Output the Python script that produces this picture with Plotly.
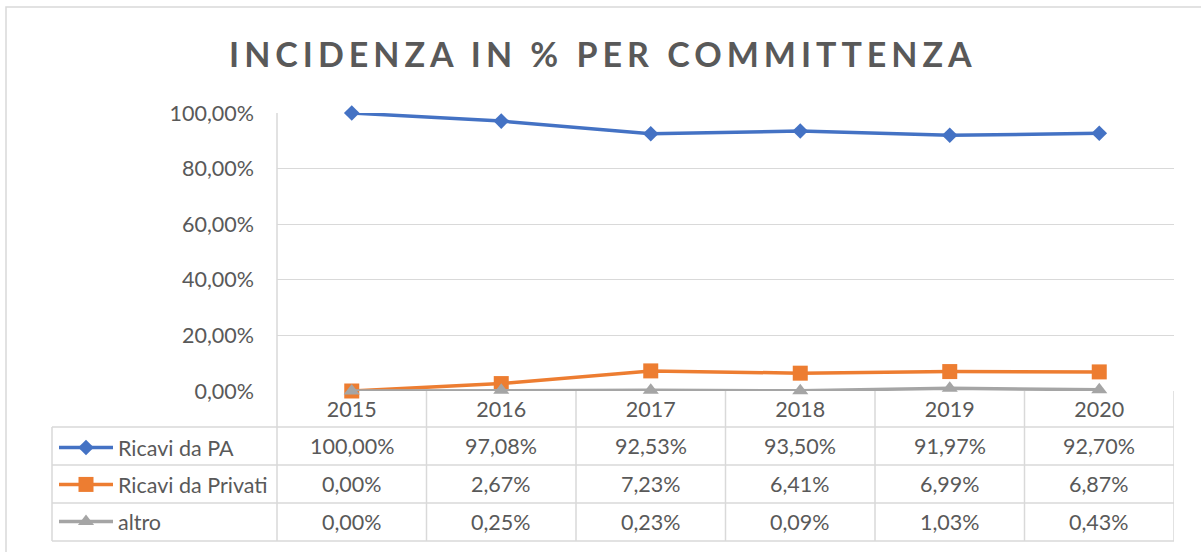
import plotly.graph_objects as go

# ---- data ----
years = ["2015", "2016", "2017", "2018", "2019", "2020"]
series_names = ["Ricavi da PA", "Ricavi da Privati", "altro"]
ricavi_pa = [100.00, 97.08, 92.53, 93.50, 91.97, 92.70]
ricavi_privati = [0.00, 2.67, 7.23, 6.41, 6.99, 6.87]
altro = [0.00, 0.25, 0.23, 0.09, 1.03, 0.43]
y_tick_values = [0, 20, 40, 60, 80, 100]
title_text = "INCIDENZA IN % PER COMMITTENZA"

series_values = [ricavi_pa, ricavi_privati, altro]
colors = ["#4472C4", "#ED7D31", "#A5A5A5"]
symbols = ["diamond", "square", "triangle-up"]
marker_sizes = [12, 15, 14]


def pct(v):
    return f"{v:.2f}".replace(".", ",") + "%"


# ---- geometry (pixels) ----
W, H = 1201, 552
PLOT_L, PLOT_R, PLOT_T, PLOT_B = 277, 1174, 113, 391
TABLE_L = 52
ROW_LINES = [427, 465, 503, 541]
GRID = "#d9d9d9"
TXT = "#595959"
FONT = "Lato"
FS = 21.5


def px(x):
    return x / W


def py(y):
    return 1 - y / H


fig = go.Figure()
for name, vals, c, s, ms in zip(series_names, series_values, colors, symbols, marker_sizes):
    fig.add_trace(go.Scatter(
        x=years, y=vals, name=name, mode="lines+markers",
        line=dict(color=c, width=3.5),
        marker=dict(symbol=s, size=ms, color=c, line=dict(width=0)),
        legendgroup=name, cliponaxis=False,
    ))

shapes = []
# outer chart border
shapes.append(dict(type="rect", xref="paper", yref="paper",
                   x0=px(6), x1=px(1210), y0=py(7), y1=py(570),
                   line=dict(color=GRID, width=1.5), layer="below"))
# left vertical line of plot + table
shapes.append(dict(type="line", xref="paper", yref="paper",
                   x0=px(PLOT_L), x1=px(PLOT_L), y0=py(PLOT_T), y1=py(ROW_LINES[-1]),
                   line=dict(color=GRID, width=1.5)))
# column separators in the table (category boundaries)
for k in range(1, len(years) + 1):
    shapes.append(dict(type="line", xref="x", yref="paper",
                       x0=k - 0.5, x1=k - 0.5, y0=py(PLOT_B), y1=py(ROW_LINES[-1]),
                       line=dict(color=GRID, width=1.5)))
# horizontal table lines
for r in ROW_LINES:
    shapes.append(dict(type="line", xref="paper", yref="paper",
                       x0=px(TABLE_L), x1=px(PLOT_R), y0=py(r), y1=py(r),
                       line=dict(color=GRID, width=1.5)))
# left border of legend column
shapes.append(dict(type="line", xref="paper", yref="paper",
                   x0=px(TABLE_L), x1=px(TABLE_L), y0=py(ROW_LINES[0]), y1=py(ROW_LINES[-1]),
                   line=dict(color=GRID, width=1.5)))

annotations = []
for i, vals in enumerate(series_values):
    yc = (ROW_LINES[i] + ROW_LINES[i + 1]) / 2
    for j, v in enumerate(vals):
        annotations.append(dict(
            x=j, xref="x", y=py(yc), yref="paper",
            text=pct(v), showarrow=False,
            font=dict(family=FONT, size=FS, color=TXT),
            xanchor="center", yanchor="middle"))

fig.update_layout(
    width=W, height=H,
    margin=dict(l=0, r=0, t=0, b=0, pad=0, autoexpand=False),
    paper_bgcolor="white", plot_bgcolor="white",
    separators=",.",
    title=dict(text=f'<span style="letter-spacing:5px">{title_text}</span>',
               x=0.502, xanchor="center", y=py(55), yanchor="middle", yref="paper",
               font=dict(family=FONT, size=34, color=TXT, weight="bold")),
    font=dict(family=FONT, size=FS, color=TXT),
    xaxis=dict(domain=[px(PLOT_L), px(PLOT_R)], type="category",
               range=[-0.5, len(years) - 0.5], showgrid=False, zeroline=False,
               showline=False, ticks="", ticklabelstandoff=3, automargin=False,
               tickfont=dict(family=FONT, size=FS, color=TXT)),
    yaxis=dict(domain=[py(PLOT_B), py(PLOT_T)], range=[0, 100],
               tickvals=y_tick_values, ticktext=[pct(v) for v in y_tick_values],
               showgrid=True, gridcolor=GRID, gridwidth=1.3, zeroline=False,
               showline=False, ticks="", ticklabelstandoff=22, automargin=False,
               tickfont=dict(family=FONT, size=FS, color=TXT)),
    showlegend=True,
    legend=dict(x=px(TABLE_L + 2), xanchor="left", y=py(ROW_LINES[0]), yanchor="top",
                yref="paper", bgcolor="rgba(0,0,0,0)", borderwidth=0,
                itemwidth=54, tracegroupgap=6, traceorder="grouped",
                font=dict(family=FONT, size=FS, color=TXT), itemclick=False),
    shapes=shapes, annotations=annotations,
)

fig.write_html("out.html")
